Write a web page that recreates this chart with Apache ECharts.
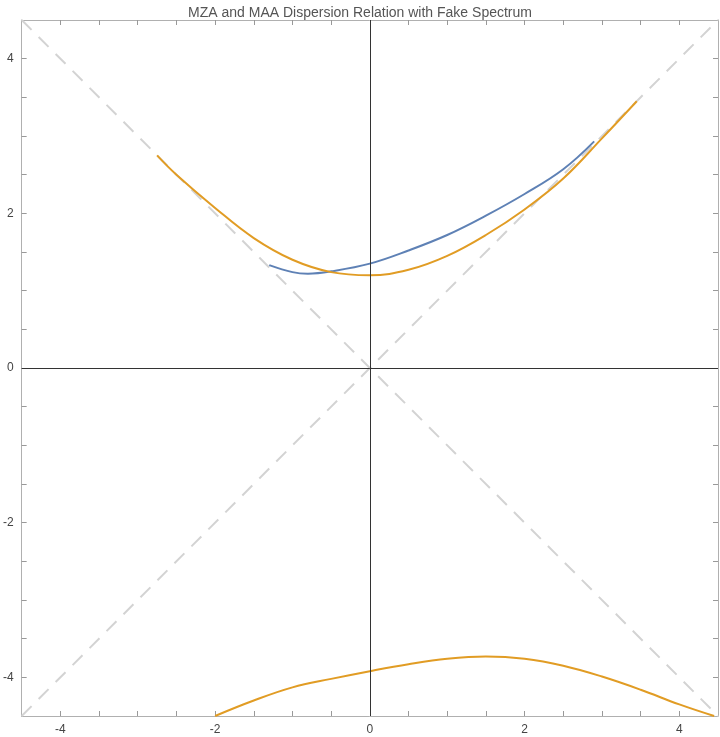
<!DOCTYPE html>
<html><head><meta charset="utf-8">
<script src="https://cdn.jsdelivr.net/npm/echarts@6/dist/echarts.min.js"></script>
<style>html,body{margin:0;padding:0;background:#fff}#c{width:720px;height:737px}</style>
</head><body><div id="c"></div>
<script>
const orangeUpper=[[-2.75,2.75],[-2.5,2.5],[-2,2.07],[-1.5,1.68],[-1,1.4],[-0.5,1.24],[0,1.2],[0.5,1.27],[1,1.45],[1.5,1.72],[2,2.05],[2.5,2.45],[3,2.97],[3.45,3.45]];
const blueCurve=[[-1.3,1.33],[-1,1.24],[-0.8,1.22],[-0.5,1.25],[0,1.35],[0.5,1.52],[1,1.72],[1.5,1.97],[2,2.25],[2.5,2.57],[2.9,2.93]];
const orangeLower=[[-2,-4.5],[-1.5,-4.3],[-1,-4.13],[-0.5,-4.02],[0,-3.92],[0.5,-3.83],[1,-3.76],[1.5,-3.73],[2,-3.76],[2.5,-3.85],[3,-3.99],[3.5,-4.16],[4,-4.35],[4.45,-4.5]];
const diagUp=[[-4.5,-4.5],[4.5,4.5]];
const diagDown=[[-4.5,4.5],[4.5,-4.5]];
const tickLabels=[-4,-2,0,2,4];
const minorTicks=[-4.5,-4,-3.5,-3,-2.5,-2,-1.5,-1,-0.5,0,0.5,1,1.5,2,2.5,3,3.5,4,4.5].filter(v=>v>-4.5&&v<4.5);
const ax=(pos,show)=>({type:'value',min:-4.5,max:4.5,position:pos,
  axisLine:{show:true,onZero:false,lineStyle:{color:'#b0b0b0',width:1}},
  axisTick:{show:true,inside:true,length:5,customValues:minorTicks,lineStyle:{color:'#999'}},
  axisLabel:{show:show,customValues:tickLabels,color:'#444',fontSize:12,fontFamily:'Liberation Sans'},
  splitLine:{show:false}});
const chart=echarts.init(document.getElementById('c'));
const smooth=0.4;
chart.setOption({
  animation:false,
  title:{text:'MZA and MAA Dispersion Relation with Fake Spectrum',left:'center',top:1,textStyle:{color:'#555',fontSize:14,fontWeight:'normal',fontFamily:'Liberation Sans'}},
  grid:{left:18,right:2,top:20,bottom:21,containLabel:false},
  xAxis:[ax('bottom',true),Object.assign(ax('top',false),{})],
  yAxis:[ax('left',true),ax('right',false)],
  series:[
    {type:'line',data:diagUp,symbol:'none',lineStyle:{color:'#d3d3d3',width:2,type:[14,10]},silent:true},
    {type:'line',data:diagDown,symbol:'none',lineStyle:{color:'#d3d3d3',width:2,type:[14,10]},silent:true,
     markLine:{symbol:'none',silent:true,label:{show:false},lineStyle:{color:'#333',width:1,type:'solid'},data:[{xAxis:0},{yAxis:0}]}},
    {type:'line',data:blueCurve,symbol:'none',smooth:smooth,lineStyle:{color:'#5e81b5',width:2}},
    {type:'line',data:orangeUpper,symbol:'none',smooth:smooth,lineStyle:{color:'#e19c24',width:2}},
    {type:'line',data:orangeLower,symbol:'none',smooth:smooth,lineStyle:{color:'#e19c24',width:2}}
  ]
});
</script></body></html>
